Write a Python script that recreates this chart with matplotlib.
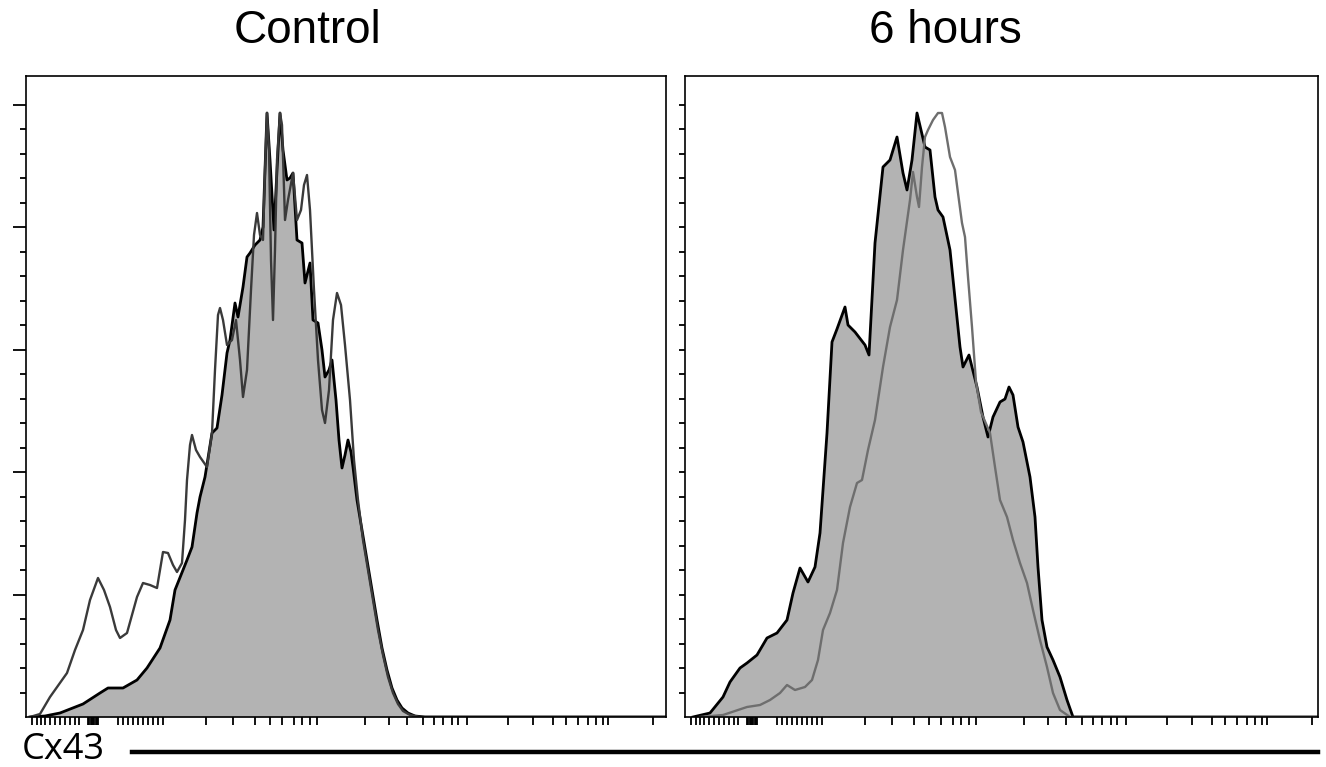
import matplotlib
matplotlib.use("Agg")
import matplotlib.pyplot as plt
from matplotlib.lines import Line2D
import numpy as np

# --- Cx43 histograms, x = display channel, y = count ---
ctrl_fill_x = [4, 19, 34, 57, 74, 82, 97, 111, 121, 134, 144, 149, 161, 166, 171, 174, 179,
               186, 191, 196, 201, 204, 209, 212, 217, 221, 224, 229, 234, 237, 239, 241, 244,
               248, 251, 254, 257, 261, 264, 267, 271, 276, 279, 284, 287, 292, 296, 299, 303,
               306, 310, 313, 316, 319, 322, 325, 327, 331, 336, 341, 346, 351, 356, 361, 366,
               371, 376, 382, 389, 399, 640]
ctrl_fill_y = [0, 1, 4, 13, 24, 29, 29, 37, 49, 69, 97, 127, 157, 170, 204, 220, 240,
               284, 289, 322, 364, 377, 414, 400, 430, 460, 464, 472, 477, 490, 547, 604, 557,
               487, 547, 604, 567, 537, 539, 544, 477, 474, 434, 454, 397, 394, 367, 340, 347,
               357, 317, 277, 249, 262, 277, 265, 250, 217, 187, 157, 127, 97, 69, 47, 29,
               17, 9, 4, 1, 0, 0]

ctrl_open_x = [4, 14, 24, 41, 49, 57, 64, 72, 78, 84, 90, 94, 101, 106, 111, 117, 124, 131,
               137, 142, 147, 151, 156, 159, 161, 164, 166, 170, 174, 181, 186, 189, 192, 194,
               197, 201, 206, 210, 214, 217, 221, 225, 228, 231, 234, 237, 239, 241, 243, 245,
               247, 249, 251, 254, 256, 259, 262, 267, 271, 275, 278, 281, 284, 288, 292, 296,
               299, 303, 307, 311, 315, 319, 324, 328, 332, 337, 342, 347, 352, 357, 362, 367,
               372, 377, 384, 394, 640]
ctrl_open_y = [0, 3, 20, 44, 67, 87, 117, 139, 127, 110, 87, 79, 84, 102, 120, 134, 132, 129,
               165, 164, 152, 145, 154, 197, 237, 272, 282, 267, 260, 250, 284, 347, 402, 409,
               397, 372, 377, 397, 357, 320, 347, 427, 482, 504, 482, 477, 547, 604, 567, 457,
               397, 467, 557, 604, 592, 497, 517, 544, 497, 507, 532, 542, 507, 427, 357, 307,
               294, 327, 397, 424, 412, 372, 317, 257, 217, 177, 147, 117, 87, 62, 40, 24,
               13, 6, 2, 0, 0]

h6_fill_x = [8, 25, 38, 45, 55, 62, 72, 82, 92, 102, 108, 115, 123, 130, 135, 142, 147, 152,
             160, 163, 170, 180, 184, 190, 198, 205, 212, 218, 222, 227, 232, 236, 240, 245,
             250, 253, 258, 265, 275, 278, 284, 292, 298, 303, 308, 315, 320, 324, 328, 333,
             338, 345, 350, 353, 357, 362, 368, 375, 382, 388, 633]
h6_fill_y = [0, 4, 20, 35, 49, 54, 62, 79, 84, 97, 124, 149, 135, 150, 184, 284, 375, 388,
             410, 392, 385, 372, 362, 474, 550, 557, 580, 544, 527, 557, 604, 587, 570, 567,
             520, 507, 500, 467, 370, 350, 362, 330, 300, 280, 300, 315, 318, 330, 322, 290,
             275, 240, 200, 150, 97, 70, 57, 40, 17, 0, 0]

h6_open_x = [15, 38, 53, 62, 75, 85, 95, 102, 110, 120, 127, 133, 138, 145, 152, 158, 165,
             172, 177, 183, 190, 198, 205, 212, 218, 225, 228, 232, 234, 237, 240, 243, 248,
             253, 257, 260, 265, 270, 273, 277, 280, 283, 287, 291, 296, 305, 310, 315, 322,
             328, 335, 342, 348, 355, 362, 368, 375, 385, 633]
h6_open_y = [0, 2, 7, 10, 12, 17, 24, 32, 27, 30, 37, 57, 87, 104, 127, 174, 210,
             234, 237, 267, 297, 350, 390, 417, 467, 517, 545, 520, 510, 550, 580, 587, 597,
             604, 604, 590, 560, 547, 524, 494, 480, 440, 390, 335, 305, 284, 250, 217, 200,
             177, 154, 134, 107, 77, 50, 24, 7, 0, 0]

# biexponential axis tick marks (channel positions)
x_ticks = ([5.7, 10.7, 14.7, 19, 24, 29, 34, 39, 44, 49, 53]
           + [62, 63.25, 64.5, 65.75, 67, 68.25, 69.5, 70.75, 72]
           + [92, 97, 102, 107, 112, 117, 122, 127, 132, 137]
           + [180, 207, 229, 244, 256, 268, 276, 284, 291]
           + [339, 363, 381, 397, 408, 417, 426, 432, 441]
           + [482, 507, 527, 540, 552, 562, 570, 577, 582, 627])

y_major = 122.4
y_top = 641

fig = plt.figure(figsize=(13.26, 7.67), dpi=100)
ax1 = fig.add_axes([26 / 1326, 1 - 717 / 767, 640 / 1326, 641 / 767])
ax2 = fig.add_axes([685 / 1326, 1 - 717 / 767, 633 / 1326, 641 / 767])

fill_col = "#b3b3b3"


def style(ax, xmax, majors):
    ax.set_xlim(0, xmax)
    ax.set_ylim(0, y_top)
    for s in ax.spines.values():
        s.set_linewidth(1.2)
        s.set_color("black")
    ax.set_xticks([t for t in x_ticks if t <= xmax])
    ax.set_xticklabels([])
    ax.tick_params(axis="x", direction="out", length=5.5, width=1.3, color="black")
    minors = np.arange(1, 26) * y_major / 5
    minors = minors[minors < y_top]
    if majors:
        ax.set_yticks(np.arange(1, 6) * y_major)
        ax.set_yticks([m for m in minors if abs(m / y_major - round(m / y_major)) > 0.01], minor=True)
        ax.tick_params(axis="y", which="major", direction="out", length=9.5, width=1.3)
    else:
        ax.set_yticks(minors)
        ax.tick_params(axis="y", which="major", direction="out", length=4.5, width=1.3)
    ax.tick_params(axis="y", which="minor", direction="out", length=4.5, width=1.3)
    ax.set_yticklabels([])
    ax.tick_params(axis="x", which="minor", bottom=False)


ax1.fill_between(ctrl_fill_x, ctrl_fill_y, color=fill_col, lw=0)
ax1.plot(ctrl_fill_x, ctrl_fill_y, color="black", lw=2.0)
ax1.plot(ctrl_open_x, ctrl_open_y, color="#3a3a3a", lw=1.7)
style(ax1, 640, True)

ax2.fill_between(h6_fill_x, h6_fill_y, color=fill_col, lw=0)
ax2.plot(h6_fill_x, h6_fill_y, color="black", lw=2.0)
ax2.plot(h6_open_x, h6_open_y, color="#6e6e6e", lw=1.7)
style(ax2, 633, False)

title_font = ["Liberation Sans Narrow", "Liberation Sans", "DejaVu Sans"]
fig.text(308 / 1326, 1 - 31 / 767, "Control", ha="center", va="center",
         fontsize=33, family=title_font)
fig.text(945 / 1326, 1 - 31 / 767, "6 hours", ha="center", va="center",
         fontsize=33, family=title_font)

fig.text(22 / 1326, 1 - 750 / 767, "Cx43", ha="left", va="center",
         fontsize=26, family=["Open Sans", "DejaVu Sans"])
fig.add_artist(Line2D([132 / 1326, 1318 / 1326], [1 - 752 / 767, 1 - 752 / 767],
                      color="black", lw=3.2, transform=fig.transFigure))

fig.savefig("out.png", dpi=100)
